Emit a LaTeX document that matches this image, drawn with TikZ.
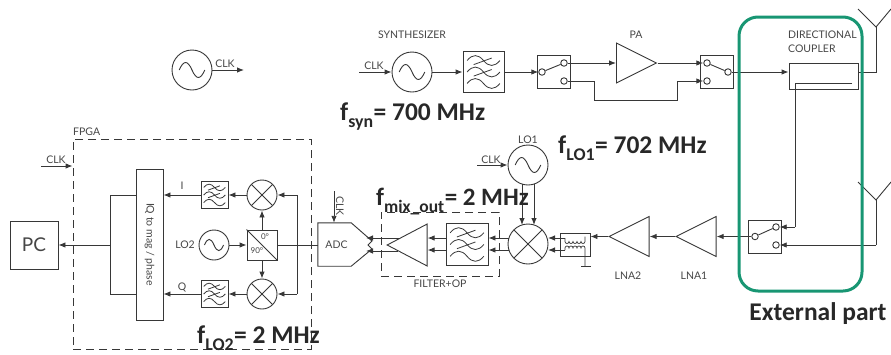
\documentclass[tikz,border=0pt]{standalone}
\usepackage{fontspec}
\setmainfont{Lato}
\newfontfamily\boldlabel{Carlito}
\usetikzlibrary{shapes.geometric, arrows.meta, calc}
\definecolor{WireGray}{RGB}{55, 55, 55}
\definecolor{TextGray}{RGB}{70, 70, 70}
\definecolor{FreqBlack}{RGB}{40, 40, 40}
\definecolor{ExtGreen}{RGB}{24, 150, 115}
\newcommand{\freqsub}[1]{\raisebox{-4pt}{\textsubscript{#1}}}
\tikzset{
  wire/.style={draw=WireGray, line width=0.9pt},
  sig/.style={wire, -{Latex[length=7pt, width=5.5pt]}},
  lbl/.style={text=TextGray, inner sep=0pt, font=\fontsize{10.5}{12}\selectfont},
  freq/.style={text=FreqBlack, inner sep=0pt, anchor=base west, font=\fontsize{25.5}{28}\selectfont\boldlabel\bfseries},
  blockbox/.style={draw=WireGray, line width=0.9pt, inner sep=0pt, fill=white},
  oscbox/.style={blockbox, circle, minimum size=#1, path picture={
    \coordinate (oscmid) at (path picture bounding box.center);
    \draw[WireGray, line width=0.9pt]
      ($(oscmid)+(-0.32*#1,0pt)$)
      .. controls ($(oscmid)+(-0.21*#1,0.25*#1)$) and ($(oscmid)+(-0.11*#1,0.25*#1)$) .. (oscmid)
      .. controls ($(oscmid)+(0.11*#1,-0.25*#1)$) and ($(oscmid)+(0.21*#1,-0.25*#1)$) .. ($(oscmid)+(0.32*#1,0pt)$);}},
  mixbox/.style={blockbox, circle, minimum size=#1, path picture={
    \draw[WireGray, line width=0.9pt]
      (path picture bounding box.north west) -- (path picture bounding box.south east)
      (path picture bounding box.north east) -- (path picture bounding box.south west);}},
  filtbox/.style={blockbox, minimum size=#1, path picture={
    \coordinate (filtmid) at (path picture bounding box.center);
    \foreach \yy in {-0.28,0,0.28}{
      \draw[WireGray, line width=0.8pt]
        ($(filtmid)+(-0.4*#1,\yy*#1)$)
        .. controls ($(filtmid)+(-0.27*#1,\yy*#1+0.16*#1)$) and ($(filtmid)+(-0.13*#1,\yy*#1+0.16*#1)$) .. ($(filtmid)+(0pt,\yy*#1)$)
        .. controls ($(filtmid)+(0.13*#1,\yy*#1-0.16*#1)$) and ($(filtmid)+(0.27*#1,\yy*#1-0.16*#1)$) .. ($(filtmid)+(0.4*#1,\yy*#1)$);}
    \foreach \yy in {-0.02,0.26}{
      \draw[WireGray, line width=0.8pt]
        ($(filtmid)+(-0.24*#1,\yy*#1-0.08*#1)$) -- ($(filtmid)+(0.2*#1,\yy*#1+0.08*#1)$);}}},
  swbox/.style={blockbox, minimum size=33pt},
  contact/.style={circle, draw=WireGray, line width=0.9pt, fill=white, inner sep=0pt, minimum size=6.5pt},
  amp/.style={blockbox, isosceles triangle, isosceles triangle stretches, minimum width=#1, minimum height=40pt},
  ampleft/.style={amp=#1, shape border rotate=180},
  ampright/.style={amp=#1, shape border rotate=0},
  fpgaframe/.style={draw=WireGray, line width=0.9pt, dash pattern=on 8pt off 5pt},
}
\begin{document}
\begin{tikzpicture}[x=1pt, y=-1pt]
  \useasboundingbox (0,0) rectangle (891,354);

  % frames
  \node[fpgaframe, minimum width=238pt, minimum height=210pt, inner sep=0pt] (fpga) at (192,244) {};
  \node[fpgaframe, minimum width=118pt, minimum height=64pt, inner sep=0pt] (filterop) at (440,244) {};
  \node[lbl, anchor=south west] (fpgalabel) at (73,136) {FPGA};
  \node[lbl] (filteroplabel) at (440,284) {FILTER+OP};

  % idle clock
  \node[oscbox=40pt] (oscidle) at (192,70) {};
  \coordinate (clkidle) at (244,70);
  \draw[sig] (oscidle) -- (clkidle);
  \node[lbl] (clkidlelabel) at (225,64) {CLK};

  % transmit path
  \node[oscbox=40pt] (oscsyn) at (412,72) {};
  \node[filtbox=41pt] (filtsyn) at (483.5,72) {};
  \node[swbox] (swtxa) at (553.5,72) {};
  \node[contact] (swtxain) at (542,72) {};
  \node[contact] (swtxaup) at (564,63) {};
  \node[contact] (swtxadn) at (564,81) {};
  \node[ampright=40pt, anchor=lower side] (pa) at (616,63) {};
  \node[swbox] (swtxb) at (717,72) {};
  \node[contact] (swtxbup) at (707,63) {};
  \node[contact] (swtxbdn) at (707,81) {};
  \node[contact] (swtxbout) at (728,72) {};
  \node[blockbox, minimum width=69pt, minimum height=26pt] (coupler) at (823.5,76) {};
  \coordinate (clksyn) at (359,72);
  \coordinate (pabenda) at (594,81);
  \coordinate (pabendb) at (594,100);
  \coordinate (pabendc) at (677,100);
  \coordinate (pabendd) at (677,81);
  \draw[sig] (clksyn) -- (oscsyn);
  \draw[sig] (oscsyn) -- (filtsyn);
  \draw[sig] (filtsyn) -- (swtxain);
  \draw[wire] (swtxain) -- (swtxaup);
  \draw[sig] (swtxaup) -- (pa.lower side);
  \draw[wire] (swtxadn) -- (pabenda) -- (pabendb) -- (pabendc) -- (pabendd);
  \draw[sig] (pabendd) -- (swtxbdn);
  \draw[sig] (pa.apex) -- (swtxbup);
  \draw[wire] (swtxbup) -- (swtxbout);
  \draw[sig] (swtxbout) -- (coupler.west |- swtxbout);

  % antennas
  \coordinate (anttx) at (876,27);
  \coordinate (antrx) at (876,200);
  \draw[wire] (coupler.east |- swtxbout) -- (876,72) -- (anttx);
  \draw[wire] (858,9) -- (anttx) -- (891,9);
  \draw[wire] (858,182) -- (antrx) -- (891,182);

  % receive switch
  \node[swbox] (swrx) at (765,236.5) {};
  \node[contact] (swrxout) at (755,236.5) {};
  \node[contact] (swrxup) at (776,227) {};
  \node[contact] (swrxdn) at (776,245) {};
  \draw[wire] (swrxout) -- (swrxup);
  \coordinate (cplend) at (852,83);
  \coordinate (cplbend) at (795,83);
  \coordinate (cpldown) at (795,227);
  \draw[wire] (cplend) -- (cplbend) -- (cpldown);
  \draw[sig] (cpldown) -- (swrxup);
  \coordinate (antrxdown) at (876,245);
  \draw[wire] (antrx) -- (antrxdown);
  \draw[sig] (antrxdown) -- (swrxdn);

  % receive chain
  \node[ampleft=40pt, anchor=apex] (lnaone) at (675,236.5) {};
  \node[ampleft=40pt, anchor=apex] (lnatwo) at (608,236.5) {};
  \node[blockbox, minimum width=30pt, minimum height=23pt] (balun) at (575,244.5) {};
  \draw[wire, line width=0.7pt] (565,238) -- (565,241.5)
    \foreach \xx in {1,...,5}{ arc[start angle=180, end angle=360, radius=2pt] } -- (585,236.5);
  \draw[wire, line width=0.7pt] (565,250) -- (565,248)
    \foreach \xx in {1,...,5}{ arc[start angle=180, end angle=0, radius=2pt] } -- (585,266);
  \node[mixbox=40pt] (mixrx) at (528,244) {};
  \node[oscbox=40pt] (osclo) at (528,165) {};
  \node[filtbox=42pt] (filtrx) at (467,244.5) {};
  \node[ampleft=42pt, anchor=apex] (oprx) at (386,245) {};
  \coordinate (clklo) at (477,165);
  \coordinate (gndleft) at (581,266);
  \coordinate (gndright) at (591,266);
  \draw[sig] (swrxout) -- (lnaone.lower side);
  \draw[sig] (lnaone.apex) -- (lnatwo.lower side);
  \draw[sig] (lnatwo.apex) -- (balun.east |- lnatwo.apex);
  \draw[wire] (gndleft) -- (gndright);
  \draw[sig] (clklo) -- (osclo);
  \draw[sig] ($(osclo.center)+(-6,19)$) -- ($(mixrx.center)+(-6,-19)$);
  \draw[sig] ($(osclo.center)+(6,19)$) -- ($(mixrx.center)+(6,-19)$);
  \foreach \yy in {238,250}{
    \draw[sig] (565,\yy) -- (548,\yy);
    \draw[sig] (509,\yy) -- (filtrx.east |- 0,\yy);
    \draw[sig] (filtrx.west |- 0,\yy) -- (oprx.lower side |- 0,\yy);
  }
  % adc
  \node[lbl, minimum width=33pt, minimum height=43pt] (adc) at (334.5,244.5) {\hspace*{4pt}ADC};
  \draw[blockbox, fill=none] (adc.north west) -- (adc.north east) -- (372,241) -- (368,245) -- (372,249) -- (adc.south east) -- (adc.south west) -- cycle;
  \coordinate (clkadc) at (334,191);
  \draw[sig] (clkadc) -- (adc.north -| clkadc);
  \draw[sig] (399.5,238) -- (366,238);
  \draw[sig] (398,251) -- (366,251);
  \node[lbl, rotate=-90] (clkadclabel) at (340,206) {CLK};

  % fpga internals
  \node[blockbox, minimum width=27pt, minimum height=151pt] (iq) at (149.5,244.5) {};
  \node[lbl, rotate=-90] (iqlabel) at (149.5,244.5) {IQ to mag / phase};
  \node[filtbox=27pt] (filti) at (214.5,195) {};
  \node[filtbox=27pt] (filtq) at (214.5,294) {};
  \node[mixbox=30pt] (mixi) at (262,195) {};
  \node[mixbox=30pt] (mixq) at (262,294) {};
  \node[blockbox, minimum size=30pt] (phase) at (262,245) {};
  \draw[wire] (phase.north west) -- (phase.south east);
  \node[lbl, font=\fontsize{8}{9}\selectfont] (phasezero) at (265,237) {0°};
  \node[lbl, font=\fontsize{8}{9}\selectfont] (phasenine) at (257,251) {90°};
  \node[oscbox=30pt] (osclotwo) at (214,245) {};
  \node[lbl, anchor=east] (lotwolabel) at (195,245) {LO2};
  \node[blockbox, minimum size=48pt] (pc) at (34,245) {\fontsize{19}{21}\selectfont\color{TextGray}PC};
  \coordinate (adcin) at (318,245);
  \coordinate (spliti) at (297,195);
  \coordinate (splitq) at (297,294);
  \coordinate (busi) at (110.5,195);
  \coordinate (busq) at (110.5,294);
  \coordinate (bus) at (110.5,245);
  \coordinate (clkfpga) at (41,166);
  \draw[wire] (adcin) -- (phase.east |- adcin) (splitq) -- (spliti);
  \draw[sig] (spliti) -- (mixi);
  \draw[sig] (splitq) -- (mixq);
  \draw[sig] (mixi) -- (filti);
  \draw[sig] (mixq) -- (filtq);
  \draw[sig] (filti) -- (iq.east |- filti);
  \draw[sig] (filtq) -- (iq.east |- filtq);
  \draw[sig] (osclotwo) -- (phase);
  \draw[sig] (phase) -- (mixi);
  \draw[sig] (phase) -- (mixq);
  \draw[wire] (iq.west |- busi) -- (busi) -- (busq) -- (iq.west |- busq);
  \draw[sig] (bus) -- (pc);
  \draw[sig] (clkfpga) -- (fpga.west |- clkfpga);

  % text labels
  \node[lbl] (ilabel) at (182,186) {I};
  \node[lbl] (qlabel) at (182,287) {Q};
  \node[lbl] (clkfpgalabel) at (56,160) {CLK};
  \node[lbl] (clksynlabel) at (374,66) {CLK};
  \node[lbl] (clklolabel) at (491,160) {CLK};
  \node[lbl] (lolabel) at (528,140) {LO1};
  \node[lbl] (synlabel) at (412,35) {SYNTHESIZER};
  \node[lbl] (palabel) at (636,35) {PA};
  \node[lbl] (lnaonelabel) at (694,276) {LNA1};
  \node[lbl] (lnatwolabel) at (628,276) {LNA2};
  \node[lbl, anchor=west] (couplerlabela) at (788,35) {DIRECTIONAL};
  \node[lbl, anchor=west] (couplerlabelb) at (788,49) {COUPLER};

  % frequencies
  \node[freq] (fsyn) at (340,120) {f\freqsub{syn}= 700 MHz};
  \node[freq] (flo) at (558,153) {f\freqsub{LO1}= 702 MHz};
  \node[freq, font=\fontsize{25}{28}\selectfont\boldlabel\bfseries] (fmix) at (376,205) {f\freqsub{mix\_out}= 2 MHz};
  \node[freq] (flotwo) at (197,343) {f\freqsub{LO2}= 2 MHz};

  % external part
  \node[draw=ExtGreen, line width=3pt, rounded corners=19pt, minimum width=123pt, minimum height=274pt, inner sep=0pt] (external) at (800.5,154) {};
  \node[freq, anchor=base] (externallabel) at (818,320) {External part};
\end{tikzpicture}
\end{document}
